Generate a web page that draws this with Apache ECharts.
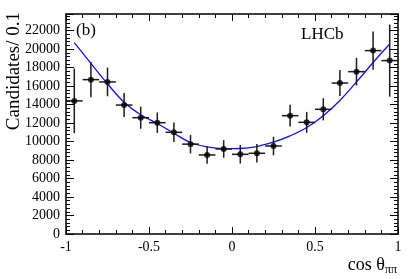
<!DOCTYPE html>
<html>
<head>
<meta charset="utf-8">
<script src="https://cdn.jsdelivr.net/npm/echarts@6/dist/echarts.min.js"></script>
<style>html,body{margin:0;padding:0;background:#fff}#c{width:418px;height:279px}</style>
</head>
<body>
<div id="c"></div>
<script>
// Data
var binCenters = [-0.95,-0.85,-0.75,-0.65,-0.55,-0.45,-0.35,-0.25,-0.15,-0.05,0.05,0.15,0.25,0.35,0.45,0.55,0.65,0.75,0.85,0.95];
var candidates = [14400,16700,16450,13950,12580,12040,11000,9720,8550,9200,8620,8730,9520,12800,12080,13490,16330,17560,19840,18760];
var errors = [3500,1900,1550,1300,1200,1100,1050,1000,950,950,1000,1000,1000,1170,1130,1200,1400,1500,2070,3900];
var binHalfWidth = 0.05;
var fitX = [-0.95,-0.85,-0.75,-0.65,-0.55,-0.45,-0.35,-0.25,-0.15,-0.05,0.05,0.15,0.25,0.35,0.45,0.55,0.65,0.75,0.85,0.95];
var fitY = [20700,18450,16250,14250,12900,11950,10900,9900,9420,9230,9250,9460,9950,10620,11520,12800,14450,16450,18550,20550];
var yTickLabels = ['0','2000','4000','6000','8000','10000','12000','14000','16000','18000','20000','22000'];
var xTickLabels = ['-1','-0.5','0','0.5','1'];

var FONT = 'Liberation Serif';
var chart = echarts.init(document.getElementById('c'), null, {renderer:'canvas'});

function xAxisDef(pos, showLabel){
  return {
    type:'value', min:-1, max:1, interval:0.5, position:pos,
    axisLine:{show:true, onZero:false, lineStyle:{color:'#000', width:1.5}},
    axisTick:{show:true, inside:true, length:7, lineStyle:{color:'#000', width:1}},
    minorTick:{show:true, splitNumber:5, length:4, lineStyle:{color:'#000', width:1}},
    splitLine:{show:false}, minorSplitLine:{show:false},
    axisLabel:{show:showLabel, fontFamily:FONT, fontSize:14, color:'#000', margin:6,
      formatter:function(v){ var i = Math.round((v+1)/0.5); return xTickLabels[i]; }}
  };
}
function yAxisDef(pos, showLabel){
  return {
    type:'value', min:0, max:23800, interval:2000, position:pos,
    axisLine:{show:true, onZero:false, lineStyle:{color:'#000', width:1.5}},
    axisTick:{show:true, inside:true, length:8, lineStyle:{color:'#000', width:1}},
    minorTick:{show:true, splitNumber:5, length:4, lineStyle:{color:'#000', width:1}},
    splitLine:{show:false}, minorSplitLine:{show:false},
    axisLabel:{show:showLabel, showMaxLabel:false, fontFamily:FONT, fontSize:14, color:'#000', margin:6,
      formatter:function(v){ var i = Math.round(v/2000); return yTickLabels[i] !== undefined ? yTickLabels[i] : ''; }}
  };
}

var errData = binCenters.map(function(x,i){ return [x, candidates[i], errors[i]]; });
var ptData = binCenters.map(function(x,i){ return [x, candidates[i]]; });
var fitData = fitX.map(function(x,i){ return [x, fitY[i]]; });

chart.setOption({
  backgroundColor:'#fff',
  animation:false,
  grid:{left:66, right:20, top:14, bottom:45, containLabel:false},
  xAxis:[xAxisDef('bottom', true), xAxisDef('top', false)],
  yAxis:[yAxisDef('left', true), yAxisDef('right', false)],
  series:[
    {
      type:'line', xAxisIndex:0, yAxisIndex:0, data:fitData, smooth:0.4,
      showSymbol:false, symbol:'none', lineStyle:{color:'#1010ff', width:1.3}, z:2
    },
    {
      type:'custom', xAxisIndex:0, yAxisIndex:0, data:errData, z:3,
      renderItem:function(params, api){
        var x = api.value(0), y = api.value(1), e = api.value(2);
        var top = api.coord([x, y+e]), bot = api.coord([x, y-e]);
        var l = api.coord([x-binHalfWidth, y]), r = api.coord([x+binHalfWidth, y]);
        var st = {stroke:'#1a1a1a', lineWidth:1.5};
        return {type:'group', children:[
          {type:'line', shape:{x1:top[0], y1:top[1], x2:bot[0], y2:bot[1]}, style:st},
          {type:'line', shape:{x1:l[0], y1:l[1], x2:r[0], y2:r[1]}, style:st}
        ]};
      }
    },
    {
      type:'scatter', xAxisIndex:0, yAxisIndex:0, data:ptData, symbol:'circle', symbolSize:6,
      itemStyle:{color:'#000'}, z:4
    }
  ],
  graphic:[
    {type:'text', x:14, y:12, rotation:Math.PI/2,
     style:{text:'Candidates/ 0.1', fontFamily:FONT, fontSize:19, fill:'#000', textAlign:'right', textVerticalAlign:'middle'}},
    {type:'text', x:76, y:31,
     style:{text:'(b)', fontFamily:FONT, fontSize:17, fill:'#000', textAlign:'left', textVerticalAlign:'middle'}},
    {type:'text', x:301, y:35,
     style:{text:'LHCb', fontFamily:FONT, fontSize:17, fill:'#000', textAlign:'left', textVerticalAlign:'middle'}},
    {type:'text', x:397, y:265,
     style:{text:'{a|cos θ}{s|ππ}', fontFamily:FONT, fill:'#000', textAlign:'right', textVerticalAlign:'middle',
       rich:{a:{fontFamily:FONT, fontSize:18, fill:'#000'}, s:{fontFamily:FONT, fontSize:12, fill:'#000', padding:[9,0,0,0]}}}}
  ]
});
</script>
</body>
</html>
